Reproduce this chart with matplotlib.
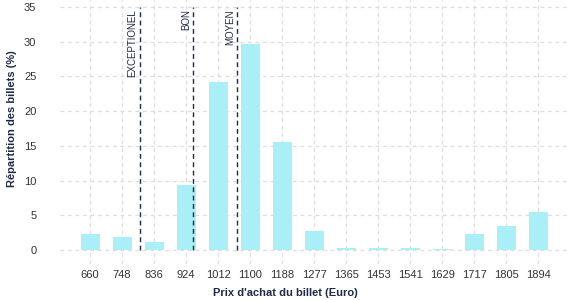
import matplotlib.pyplot as plt
import numpy as np

prices = [660, 748, 836, 924, 1012, 1100, 1188, 1277, 1365, 1453, 1541, 1629, 1717, 1805, 1894]
shares = [2.3, 1.85, 1.15, 9.35, 24.2, 29.7, 15.55, 2.75, 0.3, 0.3, 0.3, 0.15, 2.3, 3.45, 5.45]

# price thresholds for the rating lines
threshold_names = ['EXCEPTIONEL', 'BON', 'MOYEN']
threshold_prices = [797, 943, 1065]

plt.rcParams['font.family'] = ['Liberation Sans', 'DejaVu Sans']

navy = '#1f2a44'
fig = plt.figure(figsize=(5.77, 3.0), dpi=100)
ax = fig.add_axes([60 / 577, 36 / 300, 507 / 577, 264 / 300])

x = np.arange(len(prices))
ax.bar(x + 0.04, shares, width=0.55, color='#dcdcdc', zorder=2)
ax.bar(x, shares, width=0.55, color='#aaeef8', zorder=3)

for name, p in zip(threshold_names, threshold_prices):
    xp = np.interp(p, prices, x)
    ax.plot([xp, xp], [0, 35], color=navy, lw=1, ls=(0, (3.5, 2.5)), zorder=4)
    ax.text(xp - 0.07, 34.7, name, rotation=90, ha='right', va='top',
            fontsize=7, color=navy, zorder=5)

ax.set_xlim(-0.94, 14.9)
ax.set_ylim(-2, 36)
ax.set_xticks(x)
ax.set_xticklabels([str(p) for p in prices])
ax.set_yticks(range(0, 36, 5))
ax.tick_params(axis='both', length=0, labelsize=8, labelcolor='#333333')
ax.tick_params(axis='y', pad=17)
ax.tick_params(axis='x', pad=4)

ax.grid(True, color='#dddddd', ls=(0, (3, 3)), lw=0.9, zorder=0)
for s in ax.spines.values():
    s.set_visible(False)

ax.set_xlabel("Prix d'achat du billet (Euro)", fontsize=8, fontweight='bold', color=navy, va='center')
ax.xaxis.set_label_coords((285 - 60) / 507, -(293 - 264) / 264)
ax.set_ylabel('Répartition des billets (%)', fontsize=8, fontweight='bold', color=navy, va='center')
ax.yaxis.set_label_coords(-(60 - 12) / 507, (264 - 119) / 264)

fig.savefig('out.png', dpi=100)
